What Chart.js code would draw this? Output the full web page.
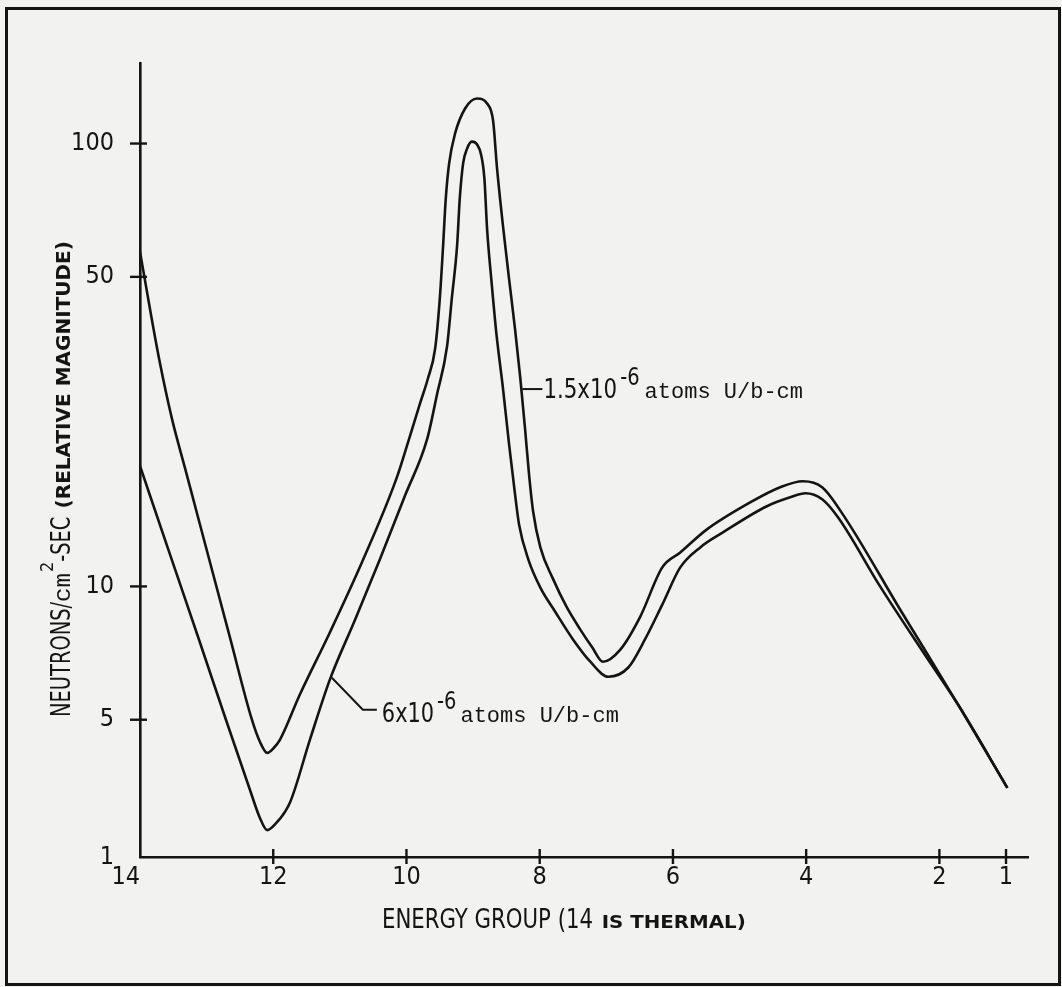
<!DOCTYPE html>
<html>
<head>
<meta charset="utf-8">
<script src="https://cdn.jsdelivr.net/npm/chart.js@4.4.1/dist/chart.umd.min.js"></script>
<style>
  html, body { margin: 0; padding: 0; background: #f2f2f0; }
  #wrap { position: relative; width: 1062px; height: 987px; }
  #fluxChart { display: block; }
  #frame { position: absolute; left: 5px; top: 7px; width: 1056px; height: 979px;
           box-sizing: border-box; border: 3px solid #141414; pointer-events: none; }
</style>
</head>
<body>
<div id="wrap">
  <canvas id="fluxChart" width="1062" height="987"></canvas>
  <div id="frame"></div>
</div>
<script>
// Energy group (x) and relative flux (y)
// 1.5x10^-6 atoms U/b-cm
const groupsLow = [14, 13.85, 13.70, 13.52, 13.32, 13.10, 12.65, 12.32, 12.20, 12.09, 11.99, 11.90,
    11.60, 11.15, 10.65, 10.14, 9.95, 9.80, 9.68, 9.57, 9.50, 9.45, 9.41, 9.36, 9.27, 9.12, 8.94,
    8.79, 8.70, 8.64, 8.55, 8.46, 8.37, 8.29, 8.22, 8.16, 8.10, 7.99, 7.80, 7.60, 7.39, 7.21, 7.05,
    6.79, 6.49, 6.16, 5.89, 5.49, 4.84, 4.39, 4.05, 3.76, 3.44, 2.59, 1.69, 0.98];
const fluxLow = [57.0, 42.3, 31.9, 23.9, 18.4, 13.8, 7.67, 5.0, 3.86, 3.39, 3.60, 3.95,
    5.70, 7.87, 11.5, 17.7, 21.8, 25.8, 29.4, 34.4, 44.6, 58.8, 75.1, 90.1, 105.4, 120.0, 126.4,
    123.1, 112.7, 87.8, 64.9, 49.5, 38.1, 29.4, 22.7, 17.9, 14.8, 12.25, 10.4, 9.01, 7.99, 7.28, 6.76,
    7.20, 8.55, 11.04, 11.93, 13.45, 15.48, 16.75, 17.28, 16.75, 14.47, 8.87, 5.32, 2.25];

// 6x10^-6 atoms U/b-cm
const groupsHigh = [14, 13.55, 13.10, 12.71, 12.35, 12.20, 12.09, 11.97, 11.75, 11.45, 11.15,
    10.77, 10.40, 10.02, 9.69, 9.54, 9.39, 9.32, 9.24, 9.20, 9.15, 9.09, 9.02, 8.94, 8.88, 8.83,
    8.79, 8.72, 8.65, 8.55, 8.46, 8.38, 8.31, 8.17, 7.99, 7.77, 7.50, 7.24, 6.97, 6.67, 6.42, 6.16,
    5.89, 5.59, 5.25, 4.59, 4.24, 4.01, 3.76, 3.52, 2.89, 2.24, 1.69, 0.98];
const fluxHigh = [18.7, 11.81, 7.47, 5.0, 2.20, 1.58, 1.37, 1.47, 1.89, 3.95, 6.16,
    8.42, 11.5, 16.06, 21.5, 27.2, 34.9, 44.6, 58.8, 75.1, 90.1, 97.4, 101.0, 99.5, 94.4, 83.3,
    64.2, 48.2, 37.2, 27.9, 20.95, 16.6, 13.8, 11.5, 9.94, 8.78, 7.59, 6.76, 6.25, 6.56, 7.59, 9.10,
    11.04, 12.25, 13.24, 15.17, 15.89, 16.23, 15.73, 14.31, 10.0, 7.09, 5.32, 2.25];

const xTickValues = [14, 12, 10, 8, 6, 4, 2, 1];
const yTickValues = [1, 5, 10, 50, 100];

const INK = '#141414';
const NARROW = '"Liberation Sans Narrow", "DejaVu Sans Condensed", sans-serif';
const SMALLCAPS = '"DejaVu Sans", sans-serif';
const MONO = '"Liberation Mono", "DejaVu Sans Mono", monospace';

// log axis whose bottom segment (1 to 5) is squeezed, like the hand drawn original
const SQUEEZE = 0.4434;
function warp(v) {
    const l = Math.log10(v), b = Math.log10(5);
    return l >= b ? l : b - (b - l) * SQUEEZE;
}
function unwarp(w) {
    const b = Math.log10(5);
    return Math.pow(10, w >= b ? w : b - (b - w) / SQUEEZE);
}

class BrokenLogScale extends Chart.LinearScale {
    configure() {
        super.configure();
        this._startValue = warp(this.min);
        this._endValue = warp(this.max);
        this._valueRange = this._endValue - this._startValue;
    }
    buildTicks() {
        return yTickValues.map(v => ({ value: v }));
    }
    getPixelForValue(value) {
        if (value === null || value === undefined) return NaN;
        return this.getPixelForDecimal((warp(value) - this._startValue) / this._valueRange);
    }
    getValueForPixel(pixel) {
        return unwarp(this._startValue + this.getDecimalForPixel(pixel) * this._valueRange);
    }
}
BrokenLogScale.id = 'brokenLog';
BrokenLogScale.defaults = Chart.LinearScale.defaults;
Chart.register(BrokenLogScale);

function toPoints(xs, ys) {
    return xs.map((x, i) => ({ x: x, y: ys[i] }));
}

// draws text runs one after another, sq narrows or widens a run
function drawRuns(ctx, runs, x, y) {
    runs.forEach(r => {
        const sq = r.sq || 1;
        ctx.font = r.font;
        ctx.save();
        ctx.translate(x, y - (r.rise || 0));
        ctx.scale(sq, 1);
        ctx.fillText(r.text, 0, 0);
        ctx.restore();
        x += ctx.measureText(r.text).width * sq + (r.gap || 0);
    });
}

// crossing tick marks, curve labels and axis titles
const decorations = {
    id: 'decorations',
    afterDraw(chart) {
        const ctx = chart.ctx;
        const xs = chart.scales.x, ys = chart.scales.y;
        const area = chart.chartArea;
        ctx.save();
        ctx.strokeStyle = INK;
        ctx.fillStyle = INK;
        ctx.lineWidth = 2.4;

        xTickValues.forEach(v => {
            if (v === 14) return;
            const px = xs.getPixelForValue(v);
            ctx.beginPath();
            ctx.moveTo(px, area.bottom - 8);
            ctx.lineTo(px, area.bottom + 7);
            ctx.stroke();
        });
        yTickValues.forEach(v => {
            if (v === 1) return;
            const py = ys.getPixelForValue(v);
            ctx.beginPath();
            ctx.moveTo(area.left - 10, py);
            ctx.lineTo(area.left + 7, py);
            ctx.stroke();
        });

        ctx.textAlign = 'left';
        ctx.textBaseline = 'alphabetic';

        // 1.5x10^-6 label
        let ax = xs.getPixelForValue(8.26), ay = ys.getPixelForValue(27.9);
        ctx.lineWidth = 2;
        ctx.beginPath();
        ctx.moveTo(ax, ay);
        ctx.lineTo(ax + 20, ay);
        ctx.stroke();
        drawRuns(ctx, [
            { text: '1.5x10', font: '27px ' + NARROW, sq: 0.88, gap: 3 },
            { text: '-6', font: '24px ' + NARROW, sq: 0.9, rise: 13, gap: 5 },
            { text: 'atoms U/b-cm', font: '22px ' + MONO }
        ], ax + 21, ay + 9);

        // 6x10^-6 label
        ax = xs.getPixelForValue(11.12);
        ay = ys.getPixelForValue(6.22);
        ctx.beginPath();
        ctx.moveTo(ax, ay);
        ctx.lineTo(ax + 31, ay + 32);
        ctx.lineTo(ax + 45, ay + 32);
        ctx.stroke();
        drawRuns(ctx, [
            { text: '6x10', font: '27px ' + NARROW, sq: 0.86, gap: 3 },
            { text: '-6', font: '24px ' + NARROW, sq: 0.9, rise: 13, gap: 4 },
            { text: 'atoms U/b-cm', font: '22px ' + MONO }
        ], ax + 50, ay + 44);

        // x axis title
        drawRuns(ctx, [
            { text: 'ENERGY GROUP (14 ', font: '27px ' + NARROW, sq: 0.875, gap: 2 },
            { text: 'IS THERMAL)', font: 'bold 18px ' + SMALLCAPS, sq: 1.1 }
        ], 382, 928);

        // y axis title
        ctx.translate(70, 717);
        ctx.rotate(-Math.PI / 2);
        drawRuns(ctx, [
            { text: 'NEUTRONS/', font: '27px ' + NARROW, sq: 0.8 },
            { text: 'cm', font: '24px ' + MONO, gap: 1 },
            { text: '2', font: '18px ' + NARROW, rise: 17 },
            { text: '-SEC ', font: '27px ' + NARROW, sq: 0.8, gap: 2 },
            { text: '(RELATIVE MAGNITUDE)', font: 'bold 20px ' + SMALLCAPS }
        ], 0, 0);
        ctx.restore();
    }
};

const ctx = document.getElementById('fluxChart').getContext('2d');
new Chart(ctx, {
    type: 'line',
    data: {
        datasets: [
            {
                label: '1.5x10^-6 atoms U/b-cm',
                data: toPoints(groupsLow, fluxLow),
                borderColor: INK,
                borderWidth: 2.6,
                pointRadius: 0,
                fill: false,
                cubicInterpolationMode: 'monotone'
            },
            {
                label: '6x10^-6 atoms U/b-cm',
                data: toPoints(groupsHigh, fluxHigh),
                borderColor: INK,
                borderWidth: 2.6,
                pointRadius: 0,
                fill: false,
                cubicInterpolationMode: 'monotone'
            }
        ]
    },
    options: {
        responsive: false,
        animation: false,
        layout: { padding: { left: 0, top: 63, right: 34, bottom: 0 } },
        plugins: {
            legend: { display: false },
            tooltip: { enabled: false }
        },
        scales: {
            x: {
                type: 'linear',
                reverse: true,
                min: 0.67,
                max: 14,
                afterBuildTicks: scale => {
                    scale.ticks = xTickValues.map(v => ({ value: v }));
                },
                afterFit: scale => { scale.height = 130; },
                grid: { display: false, drawTicks: false },
                border: { display: true, color: INK, width: 2.6 },
                ticks: {
                    padding: 5,
                    color: INK,
                    font: { family: NARROW, size: 25 },
                    maxRotation: 0,
                    autoSkip: false,
                    callback: v => (v === 14 ? '14    ' : String(v))
                }
            },
            y: {
                type: 'brokenLog',
                min: 1,
                max: 152,
                afterFit: scale => { scale.width = 140; },
                grid: { display: false, drawTicks: false },
                border: { display: true, color: INK, width: 2.6 },
                ticks: {
                    padding: 26,
                    color: INK,
                    font: { family: NARROW, size: 25 },
                    autoSkip: false,
                    callback: v => String(v)
                }
            }
        }
    },
    plugins: [decorations]
});
</script>
</body>
</html>
